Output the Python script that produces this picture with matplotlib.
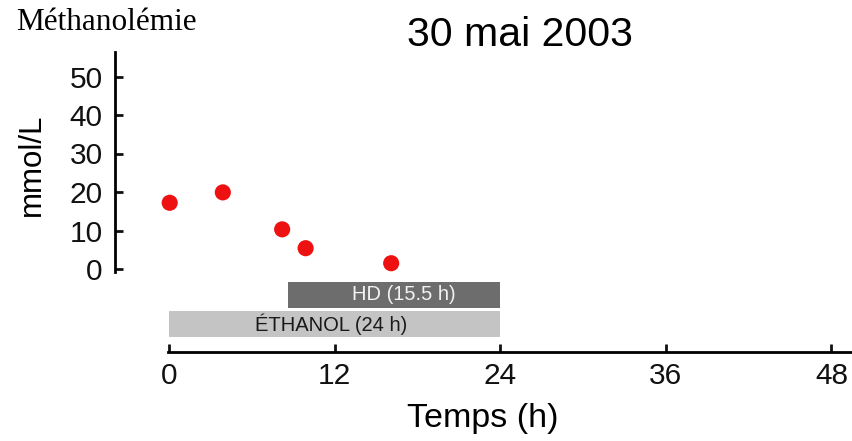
import matplotlib
matplotlib.use("Agg")
import matplotlib.pyplot as plt

# Data
time_h = [0.05, 3.9, 8.2, 9.9, 16.1]
methanol = [17.2, 19.9, 10.3, 5.4, 1.5]
bar_labels = ["HD (15.5 h)", "ÉTHANOL (24 h)"]
bar_starts = [8.6, 0.0]
bar_ends = [24.0, 24.0]
xticks = [0, 12, 24, 36, 48]
yticks = [0, 10, 20, 30, 40, 50]

plt.rcParams['font.family'] = ['Liberation Sans', 'DejaVu Sans']

W, H = 853, 441
fig = plt.figure(figsize=(W / 100, H / 100), dpi=100)
left_px, right_px, top_px, bot_px = 115, 853, 52, 352
ax = fig.add_axes([left_px / W, 1 - bot_px / H, (right_px - left_px) / W, (bot_px - top_px) / H])

# scales: x 0 at px 169, 13.8 px/h ; y 0 at px 269, 3.85 px/unit
xpx, x0 = 13.8, 169
ypx, y0 = 3.85, 269
ax.set_xlim((left_px - x0) / xpx, (right_px - x0) / xpx)
ax.set_ylim((y0 - bot_px) / ypx, (y0 - top_px) / ypx)

ax.scatter(time_h, methanol, s=135, color='#ee1111', edgecolor='none', zorder=3, clip_on=False)

# bars
bar_colors = ['#6d6d6d', '#c4c4c4']
text_colors = ['#f2f2f2', '#1a1a1a']
text_offsets = [0.75, -0.25]
bar_y = [-6.75, -14.25]
bar_h = 6.7
for lab, s, e, c, tc, yy, off in zip(bar_labels, bar_starts, bar_ends, bar_colors, text_colors, bar_y, text_offsets):
    ax.barh(yy, e - s, left=s, height=bar_h, color=c, edgecolor='none', clip_on=False)
    ax.text((s + e) / 2 + off, yy, lab, ha='center', va='center', color=tc, fontsize=14.5)

for sp in ['top', 'right']:
    ax.spines[sp].set_visible(False)
ax.spines['left'].set_bounds(-0.8, (y0 - top_px) / ypx)
ax.spines['bottom'].set_bounds(-0.05, (right_px - x0) / xpx)
ax.spines['left'].set_linewidth(2)
ax.spines['bottom'].set_linewidth(2)

ax.set_xticks(xticks)
ax.set_xticklabels([str(t) for t in xticks])
ax.set_yticks(yticks)
ax.set_yticklabels([str(t) for t in yticks])
ax.tick_params(axis='both', direction='in', length=6, width=2, labelsize=21.5, colors='#111111')
ax.tick_params(axis='x', pad=7)
ax.tick_params(axis='y', pad=9)

fig.text(32 / W, 1 - 165 / H, 'mmol/L', ha='center', va='center', rotation=90, fontsize=22.5)
fig.text(483 / W, 1 - 418 / H, 'Temps (h)', ha='center', va='center', fontsize=24.5)
fig.text(520 / W, 1 - 35 / H, '30 mai 2003', ha='center', va='center', fontsize=29.5)
fig.text(16 / W, 1 - 22 / H, 'Méthanolémie', ha='left', va='center', fontsize=22.5,
         family=['Liberation Serif', 'DejaVu Serif'])

fig.savefig('out.png', dpi=100)
